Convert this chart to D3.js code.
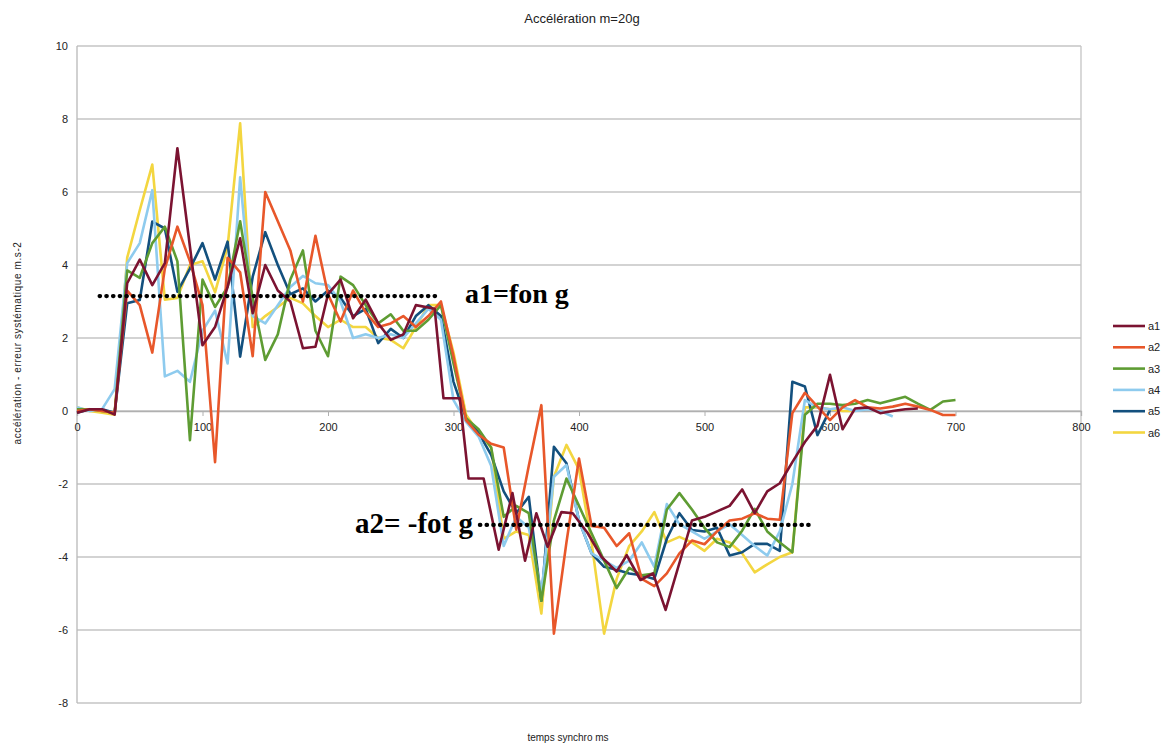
<!DOCTYPE html>
<html>
<head>
<meta charset="utf-8">
<script src="https://cdn.jsdelivr.net/npm/d3@7"></script>
<style>
  body { margin: 0; background: #fff; }
  svg text { font-family: "Liberation Sans", Arial, sans-serif; fill: #222; }
  .grid line { stroke: #c4c4c4; stroke-width: 1.3; }
  .note { font-family: "Liberation Serif", "Times New Roman", serif !important; font-weight: bold; fill: #000 !important; }
</style>
</head>
<body>
<div id="chart"></div>
<script>
// time axis (ms), common to a2..a6
var times = d3.range(0, 701, 10);

// a1 has its own time stamps (steps around 300 ms)
var timesA1 = [0, 10, 20, 30, 40, 50, 60, 70, 80, 100, 110, 120, 130, 140, 150, 160, 170, 180, 190, 200,
  210, 220, 230, 240, 250, 260, 270, 285, 292, 305, 312, 324, 336, 347, 357, 366, 375, 386, 395, 407,
  418, 430, 438, 449, 459, 469, 490, 500, 510, 520, 530, 540, 550, 560, 570, 580, 590, 600, 610, 620,
  630, 640, 650, 660, 670];
var a1 = [-0.05, 0.05, 0.05, -0.1, 3.5, 4.15, 3.45, 4.05, 7.2, 1.8, 2.3, 3.4, 4.73, 2.68, 4.0, 3.3, 3.0, 1.72, 1.76, 3.2,
  3.6, 2.54, 3.05, 2.4, 1.95, 2.1, 2.9, 2.8, 0.35, 0.35, -1.85, -1.85, -3.8, -2.25, -4.1, -2.8, -3.72, -2.77, -2.8, -3.35,
  -4.0, -4.4, -3.95, -4.63, -4.45, -5.45, -3.0, -2.9, -2.75, -2.6, -2.15, -2.8, -2.2, -1.98, -1.4, -0.85, -0.4, 0.99, -0.5, 0.07,
  0.1, -0.06, 0.0, 0.05, 0.07];

var a2 = [0.0, 0.05, 0.0, -0.05, 3.3, 2.9, 1.6, 3.9, 5.05, 4.1, 2.9, -1.4, 4.2, 3.8, 1.5, 6.0, 5.2, 4.4, 3.0, 4.8,
  3.2, 2.45, 3.3, 2.7, 2.3, 2.4, 2.6, 2.3, 2.6, 3.0, 1.5, -0.25, -0.65, -0.9, -1.0, -3.25, -1.5, 0.16, -6.1, -3.6,
  -1.3, -3.15, -3.2, -3.7, -3.35, -4.6, -4.8, -4.45, -3.9, -3.55, -3.65, -3.3, -3.0, -2.95, -2.8, -2.95, -2.98, -0.06, 0.5, 0.12,
  -0.25, 0.1, 0.3, 0.1, 0.07, 0.12, 0.2, 0.12, 0.03, -0.11, -0.11];

var a3 = [0.05, 0.05, 0.0, -0.05, 3.85, 3.65, 4.6, 5.05, 4.1, -0.8, 3.6, 2.85, 3.4, 5.2, 3.1, 1.4, 2.1, 3.6, 4.4, 2.2,
  1.5, 3.68, 3.45, 2.9, 2.4, 2.65, 2.2, 2.2, 2.5, 2.9, 1.3, -0.2, -0.5, -1.0, -2.9, -2.6, -2.8, -5.2, -3.0, -1.85,
  -2.6, -3.35, -4.1, -4.85, -4.3, -4.5, -4.45, -2.7, -2.25, -2.7, -3.2, -3.6, -3.73, -3.28, -2.68, -3.3, -3.6, -3.87, -0.1, 0.2,
  0.2, 0.16, 0.2, 0.3, 0.21, 0.3, 0.39, 0.2, 0.03, 0.26, 0.3];

var a4 = [0.1, 0.0, 0.05, 0.6, 4.05, 4.6, 6.05, 0.95, 1.1, 0.8, 2.2, 2.75, 1.3, 6.4, 2.6, 2.4, 2.9, 3.4, 3.7, 3.5,
  3.45, 3.0, 2.0, 2.1, 2.0, 2.1, 2.0, 2.4, 2.8, 2.5, 0.3, -0.3, -0.7, -1.5, -3.7, -2.9, -3.2, -5.0, -1.8, -1.48,
  -3.0, -3.9, -4.1, -4.3, -4.1, -3.6, -4.27, -2.55, -3.1, -3.3, -3.5, -3.3, -3.1, -3.4, -3.7, -3.96, -3.3, -2.0, 0.3, 0.1,
  0.05, 0.1, 0.0, 0.05, 0.0, -0.15];

var a5 = [-0.05, 0.05, 0.05, -0.05, 2.95, 3.04, 5.19, 5.0, 3.27, 3.9, 4.6, 3.6, 4.64, 1.49, 3.68, 4.9, 4.0, 3.2, 3.36, 3.0,
  3.3, 3.1, 2.6, 2.8, 1.86, 2.25, 2.0, 2.6, 2.9, 2.6, 0.8, -0.2, -0.6, -1.2, -2.2, -2.8, -2.35, -5.2, -0.98, -1.43,
  -3.0, -3.9, -4.27, -4.35, -4.45, -4.5, -4.6, -3.5, -2.8, -3.26, -3.3, -3.2, -3.96, -3.87, -3.64, -3.64, -3.83, 0.8, 0.67, -0.66,
  0.03];

var a6 = [0.1, 0.0, -0.05, -0.1, 4.2, 5.5, 6.75, 3.05, 3.1, 4.0, 4.1, 3.25, 4.5, 7.88, 2.3, 2.6, 2.85, 3.1, 2.95, 2.6,
  2.3, 2.5, 2.3, 2.3, 2.0, 1.95, 1.72, 2.3, 2.9, 2.9, 1.6, -0.1, -0.6, -1.0, -3.5, -3.3, -3.4, -5.55, -1.8, -0.93,
  -1.6, -3.6, -6.1, -4.6, -3.7, -3.3, -2.77, -3.6, -3.45, -3.6, -3.83, -3.5, -3.6, -3.9, -4.42, -4.2, -4.0, -3.87, 0.1, 0.1,
  0.05, 0.0, 0.0];

var seriesNames = ["a1", "a2", "a3", "a4", "a5", "a6"];
var seriesColors = ["#7b1331", "#e8572a", "#5e9c33", "#8ecbee", "#13507e", "#f3d640"];
var yTicks = [-8, -6, -4, -2, 0, 2, 4, 6, 8, 10];
var xTicks = [0, 100, 200, 300, 400, 500, 600, 700, 800];

// reference levels drawn as dotted lines
var levelA1 = 3.15, levelA2 = -3.12;

var width = 1164, height = 743;
var margin = {top: 46, right: 83, bottom: 40, left: 77};

var svg = d3.select("#chart").append("svg")
    .attr("width", width)
    .attr("height", height);

var x = d3.scaleLinear().domain([0, 800]).range([margin.left, width - margin.right]);
var y = d3.scaleLinear().domain([-8, 10]).range([height - margin.bottom, margin.top]);

//horizontal gridlines
svg.append("g").attr("class", "grid")
    .selectAll("line").data(yTicks).enter().append("line")
    .attr("x1", x(0)).attr("x2", x(800))
    .attr("y1", function(d) { return y(d); })
    .attr("y2", function(d) { return y(d); });

// left axis line and right border
svg.append("line").attr("x1", x(0)).attr("x2", x(0)).attr("y1", y(10)).attr("y2", y(-8))
    .attr("stroke", "#b8b8b8").attr("stroke-width", 1.3);
svg.append("line").attr("x1", x(800)).attr("x2", x(800)).attr("y1", y(10)).attr("y2", y(-8))
    .attr("stroke", "#c4c4c4").attr("stroke-width", 1.3);

// y tick labels
svg.append("g").selectAll("text").data(yTicks).enter().append("text")
    .attr("x", x(0) - 9)
    .attr("y", function(d) { return y(d) + 4; })
    .attr("text-anchor", "end")
    .style("font-size", "11px")
    .text(function(d) { return d; });

// x axis at y=0
var xAxis = d3.axisBottom(x).tickValues(xTicks).tickSize(5).tickPadding(7);
var gx = svg.append("g").attr("transform", "translate(0," + y(0) + ")").call(xAxis);
gx.select(".domain").attr("stroke", "#b0b0b0").attr("stroke-width", 1.3);
gx.selectAll(".tick line").attr("stroke", "#b0b0b0");
gx.selectAll(".tick text").style("font-size", "11px").style("font-family", "Liberation Sans, Arial, sans-serif").attr("fill", "#222");

// series
var allSeries = [
  {name: "a1", t: timesA1, v: a1},
  {name: "a2", t: times, v: a2},
  {name: "a3", t: times, v: a3},
  {name: "a4", t: times, v: a4},
  {name: "a5", t: times, v: a5},
  {name: "a6", t: times, v: a6}
];

var line = d3.line()
    .x(function(d) { return x(d[0]); })
    .y(function(d) { return y(d[1]); });

// draw a6 first so a1 sits on top
allSeries.slice().reverse().forEach(function(s) {
    var pts = s.v.map(function(v, i) { return [s.t[i], v]; });
    svg.append("path")
        .datum(pts)
        .attr("fill", "none")
        .attr("stroke", seriesColors[seriesNames.indexOf(s.name)])
        .attr("stroke-width", 2.6)
        .attr("stroke-linejoin", "round")
        .attr("d", line);
});

// dotted reference lines and annotations
svg.append("line")
    .attr("x1", x(18)).attr("x2", x(290))
    .attr("y1", y(levelA1)).attr("y2", y(levelA1))
    .attr("stroke", "#000").attr("stroke-width", 4.2)
    .attr("stroke-linecap", "round").attr("stroke-dasharray", "0.5 6.2");
svg.append("line")
    .attr("x1", x(321)).attr("x2", x(585))
    .attr("y1", y(levelA2)).attr("y2", y(levelA2))
    .attr("stroke", "#000").attr("stroke-width", 4.2)
    .attr("stroke-linecap", "round").attr("stroke-dasharray", "0.5 6.2");

svg.append("text").attr("class", "note")
    .attr("x", 465).attr("y", 303)
    .style("font-size", "28px")
    .text("a1=fon g");
svg.append("text").attr("class", "note")
    .attr("x", 355).attr("y", 533)
    .style("font-size", "29px")
    .text("a2= -fot g");

// title and axis titles
svg.append("text")
    .attr("x", 582).attr("y", 23)
    .attr("text-anchor", "middle")
    .style("font-size", "13px")
    .text("Accélération m=20g");

svg.append("text")
    .attr("x", 568).attr("y", 741)
    .attr("text-anchor", "middle")
    .style("font-size", "10px")
    .text("temps synchro ms");

svg.append("text")
    .attr("transform", "translate(21,343) rotate(-90)")
    .attr("text-anchor", "middle")
    .style("font-size", "10px")
    .style("letter-spacing", "0.6px")
    .text("accélération - erreur systématique m.s-2");

// legend
var legend = svg.append("g").attr("transform", "translate(1113,326)");
seriesNames.forEach(function(n, i) {
    var g = legend.append("g").attr("transform", "translate(0," + (i * 21.3) + ")");
    g.append("line").attr("x1", 0).attr("x2", 32).attr("y1", 0).attr("y2", 0)
        .attr("stroke", seriesColors[i]).attr("stroke-width", 2.6);
    g.append("text").attr("x", 35).attr("y", 4).style("font-size", "11px").text(n);
});
</script>
</body>
</html>
